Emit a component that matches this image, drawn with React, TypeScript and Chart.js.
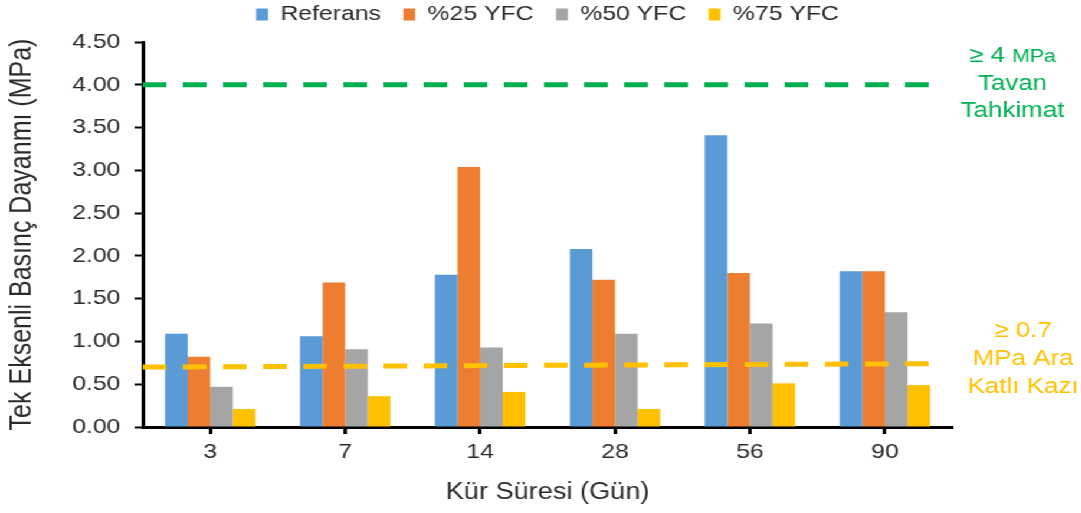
import { useEffect, useRef } from 'react';
import { Chart, registerables } from 'chart.js';

Chart.register(...registerables);

// ---- data ----
const categories = ['3', '7', '14', '28', '56', '90'];
const seriesNames = ['Referans', '%25 YFC', '%50 YFC', '%75 YFC'];
const referans = [1.09, 1.06, 1.78, 2.08, 3.41, 1.82];
const yfc25 = [0.82, 1.69, 3.04, 1.72, 1.8, 1.82];
const yfc50 = [0.47, 0.91, 0.93, 1.09, 1.21, 1.34];
const yfc75 = [0.21, 0.36, 0.41, 0.21, 0.51, 0.49];
const limitX = [0, 0.975]; // fraction of the plot width covered by the limit lines
const tavanLimit = [4.0, 4.0];
const araKatLimit = [0.7, 0.74];
const yMin = 0;
const yMax = 4.5;
const yStep = 0.5;
const xTitle = 'Kür Süresi (Gün)';
const yTitle = 'Tek Eksenli Basınç Dayanmı (MPa)';
const tavanNote = ['≥ 4', 'MPa', 'Tavan', 'Tahkimat'];
const araNote = ['≥ 0.7', 'MPa Ara', 'Katlı Kazı'];

// ---- style ----
const S = 1.18;
const H = 513;
const W = 1081 / S;
const FONT = "'Liberation Sans', Arial, sans-serif";
const TEXT = '#2b2b2b';
const colors = ['#5B9BD5', '#ED7D31', '#A5A5A5', '#FFC000'];
const GREEN = '#00B050';
const YELLOW = '#FFC000';

const limitPlugin = {
  id: 'limits',
  afterDatasetsDraw(chart: any) {
    const { ctx, chartArea, scales } = chart;
    const y = scales.y;
    const w = chartArea.right - chartArea.left;
    const draw = (vals: number[], color: string) => {
      ctx.save();
      ctx.strokeStyle = color;
      ctx.lineWidth = 5;
      ctx.lineCap = 'butt';
      ctx.setLineDash([20, 14]);
      ctx.beginPath();
      ctx.moveTo(chartArea.left + limitX[0] * w, y.getPixelForValue(vals[0]));
      ctx.lineTo(chartArea.left + limitX[1] * w, y.getPixelForValue(vals[1]));
      ctx.stroke();
      ctx.restore();
    };
    draw(tavanLimit, GREEN);
    draw(araKatLimit, YELLOW);
  },
};

const notesPlugin = {
  id: 'notes',
  afterDraw(chart: any) {
    const ctx = chart.ctx as CanvasRenderingContext2D;
    ctx.save();
    ctx.textBaseline = 'middle';
    ctx.textAlign = 'left';
    ctx.fillStyle = GREEN;
    ctx.font = `22px ${FONT}`;
    const a = tavanNote[0] + ' ';
    const wa = ctx.measureText(a).width;
    ctx.font = `18px ${FONT}`;
    const wb = ctx.measureText(tavanNote[1]).width;
    const gx = 858;
    const sx = gx - (wa + wb) / 2;
    ctx.font = `22px ${FONT}`;
    ctx.fillText(a, sx, 56);
    ctx.font = `18px ${FONT}`;
    ctx.fillText(tavanNote[1], sx + wa, 57);
    ctx.textAlign = 'center';
    ctx.font = `22px ${FONT}`;
    ctx.fillText(tavanNote[2], gx, 84);
    ctx.fillText(tavanNote[3], gx, 111);
    ctx.fillStyle = YELLOW;
    const yx = 867;
    ctx.fillText(araNote[0], yx, 331);
    ctx.fillText(araNote[1], yx, 359);
    ctx.fillText(araNote[2], yx, 387);
    ctx.restore();
  },
};

const legendPlugin = {
  id: 'legendFix',
  afterInit(chart: any) {
    const lg = chart.legend;
    if (lg) {
      const orig = lg.fit;
      lg.fit = function () {
        orig.call(this);
        this.height = 57;
      };
    }
  },
};

export default function App() {
  const ref = useRef<HTMLCanvasElement | null>(null);

  useEffect(() => {
    document.body.style.margin = '0';
    const barSets = [referans, yfc25, yfc50, yfc75].map((d, i) => ({
      label: seriesNames[i],
      data: d,
      backgroundColor: colors[i],
      borderWidth: 0,
      categoryPercentage: 0.67,
      barPercentage: 1.0,
    }));

    const chart = new Chart(ref.current as HTMLCanvasElement, {
      type: 'bar',
      data: { labels: categories, datasets: barSets },
      options: {
        animation: false,
        responsive: true,
        maintainAspectRatio: false,
        layout: { padding: { top: -15, right: 109, left: 0, bottom: 0 } },
        plugins: {
          tooltip: { enabled: false },
          legend: {
            position: 'top',
            fullSize: false,
            labels: {
              boxWidth: 10,
              boxHeight: 12,
              padding: 19,
              color: TEXT,
              font: { family: FONT, size: 21 },
            },
          },
        },
        scales: {
          x: {
            offset: true,
            grid: {
              offset: false,
              drawOnChartArea: false,
              drawTicks: true,
              tickLength: 7,
              tickWidth: 3,
              tickColor: '#000',
            },
            border: { display: true, color: '#000', width: 3 },
            ticks: { color: TEXT, font: { family: FONT, size: 21 }, padding: 6 },
            title: {
              display: true,
              text: xTitle,
              color: TEXT,
              font: { family: FONT, size: 23 },
              padding: { top: 0, bottom: 7 },
            },
            afterFit: (s: any) => {
              s.height = 86;
            },
          },
          y: {
            min: yMin,
            max: yMax,
            ticks: {
              stepSize: yStep,
              color: TEXT,
              font: { family: FONT, size: 21 },
              padding: 12,
              callback: (v: any) => Number(v).toFixed(2),
            },
            grid: {
              drawOnChartArea: false,
              drawTicks: true,
              tickLength: 7,
              tickWidth: 2,
              tickColor: '#000',
            },
            border: { display: true, color: '#000', width: 3 },
            title: {
              display: true,
              text: yTitle,
              color: TEXT,
              font: { family: FONT, size: 25 },
              padding: { top: 4, bottom: 0 },
            },
            afterFit: (s: any) => {
              s.width = 121;
            },
          },
        },
      },
      plugins: [limitPlugin, notesPlugin, legendPlugin],
    });
    return () => chart.destroy();
  }, []);

  return (
    <div
      style={{
        position: 'fixed',
        left: 0,
        top: 0,
        width: W,
        height: H,
        background: '#fff',
        transform: `scaleX(${S})`,
        transformOrigin: '0 0',
      }}
    >
      <canvas ref={ref} />
    </div>
  );
}
